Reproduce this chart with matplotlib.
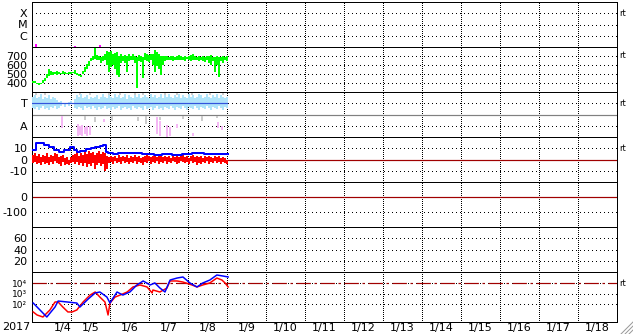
"""Space weather summary chart: X-ray, solar wind, IMF sector, Bt/Bz, Dst, Kp and electron flux."""

import numpy as np
import matplotlib

matplotlib.use("Agg")
import matplotlib.pyplot as plt
from matplotlib.lines import Line2D
from matplotlib.transforms import blended_transform_factory

W, H, DPI = 633, 334, 100
PX = 72 / DPI  # one pixel in points

DAY_LABELS = ["1/4", "1/5", "1/6", "1/7", "1/8", "1/9", "1/10", "1/11",
              "1/12", "1/13", "1/14", "1/15", "1/16", "1/17", "1/18"]
YEAR = "2017"

# X-ray flux (only a few samples poke above the bottom of the panel)
XRAY_DAY = [0.10, 1.10, 1.75]
XRAY_PEAK = [1.85e-7, 1.2e-7, 1.5e-7]

# solar wind speed, low/high per sample (km/s)
SPEED_LO = [400, 395, 385, 380, 385, 400, 420, 450, 480, 490, 490, 495, 490, 500,
            495, 500, 505, 500, 505, 500, 510, 505, 490, 475, 470, 500, 520, 560,
            590, 640, 660, 670, 660, 650, 620, 640, 660, 600, 520, 580, 600, 560,
            490, 470, 620, 640, 620, 520, 640, 650, 660, 620, 340, 640, 630, 450,
            660, 640, 630, 650, 600, 520, 590, 560, 490, 600, 640, 650, 660, 650,
            640, 660, 650, 660, 660, 650, 640, 670, 660, 640, 650, 660, 650, 640,
            650, 640, 630, 650, 620, 600, 640, 520, 600, 470, 640, 620, 650, 640]
SPEED_HI = [425, 420, 405, 400, 405, 430, 460, 500, 560, 530, 520, 525, 530, 520,
            515, 530, 520, 515, 520, 520, 525, 540, 510, 500, 490, 530, 580, 610,
            640, 680, 700, 790, 710, 700, 690, 700, 720, 750, 740, 760, 720, 730,
            740, 700, 720, 700, 710, 700, 720, 700, 720, 700, 690, 710, 700, 690,
            730, 720, 710, 720, 720, 770, 740, 720, 700, 700, 700, 700, 690, 700,
            700, 690, 700, 710, 700, 690, 700, 690, 700, 710, 720, 700, 690, 700,
            690, 700, 690, 700, 700, 710, 690, 690, 700, 690, 690, 700, 690, 700]

# IMF sector (T = toward, A = away), band per sample
SECTOR_LO = [.30, .25, .35, .20, .30, .40, .25, .30, .20, .35, .30, .40, .25, .30,
             .40, np.nan, .35, np.nan, .40, .45, np.nan, .30, .25, .35, .30, .20,
             .40, .30, .35, .25, .40, .30, .20, .35, .25, .30, .40, .25, .30, .20,
             .35, .25, .30, .40, .20, .30, .35, .25, .30, .20, .40, .30, .25, .35,
             .30, .20, .40, .25, .30, .35, .20, .30, .40, .25, .30, .20, .35, .30,
             .25, .40, .30, .20, .35, .30, .25, .40, .30, .20, .35, .30, .25, .40,
             .30, .20, .35, .30, .25, .40, .30, .20, .35, .30, .25, .40, .30, .20,
             .35, .30]
SECTOR_HI = [.80, .85, .75, .80, .90, .70, .80, .75, .85, .70, .80, .75, .65, .55,
             .60, np.nan, .50, np.nan, .55, .60, np.nan, .70, .85, .80, .90, .75,
             .80, .85, .70, .80, .75, .80, .85, .70, .80, .90, .80, .75, .85, .80,
             .75, .90, .80, .85, .75, .80, .90, .70, .85, .80, .75, .85, .80, .90,
             .75, .80, .85, .80, .75, .90, .80, .85, .75, .80, .90, .75, .85, .80,
             .90, .80, .75, .85, .80, .90, .75, .85, .80, .75, .90, .80, .85, .75,
             .80, .90, .85, .75, .80, .90, .80, .75, .85, .80, .90, .75, .85, .80,
             .75, .80]
GRAY_DAY = [0.10, 0.33, 1.23, 1.36, 1.49, 1.62, 1.97, 2.05, 2.26, 2.64, 2.72,
            2.85, 2.92, 3.28, 3.41, 3.72, 3.87, 4.10, 4.36, 4.56, 4.74, 4.90]
GRAY_LO = [0.85, 0.88, 0.86, -0.25, 0.85, -0.35, 0.87, -0.30, 0.86, 0.88, -0.30,
           0.85, -0.40, -0.25, 0.86, 0.87, -0.20, 0.85, -0.30, 0.86, -0.15, 0.88]
GRAY_HI = [0.98, 1.00, 1.00, -0.05, 0.97, -0.10, 1.00, -0.05, 0.96, 1.00, -0.10,
           0.95, -0.05, -0.10, 1.00, 0.97, -0.05, 1.00, -0.08, 0.98, -0.05, 1.00]
PINK_DAY = [0.77, 1.17, 1.22, 1.28, 1.36, 1.41, 1.49, 1.85, 3.21, 3.28, 3.46,
            3.54, 3.72, 4.13, 4.77, 4.87]
PINK_LO = [-0.60, -0.95, -0.90, -0.95, -0.85, -0.95, -0.90, -0.35, -0.85, -0.95,
           -1.00, -0.95, -0.60, -0.95, -0.60, -0.70]
PINK_HI = [-0.05, -0.40, -0.50, -0.45, -0.55, -0.50, -0.50, -0.20, -0.10, -0.30,
           -0.45, -0.55, -0.40, -0.80, -0.35, -0.50]

# IMF Bt (line) and Bz (low/high per sample), nT
BT_DAY = [0.03, 0.15, 0.25, 0.38, 0.50, 0.63, 0.76, 0.90, 1.03, 1.13, 1.18,
          1.30, 1.46, 1.56, 1.69, 1.79, 1.87, 1.90, 1.92, 2.00, 2.13, 2.26,
          2.59, 3.03, 3.21, 3.46, 3.72, 3.97, 4.23, 4.31, 4.49, 5.03]
BT_VAL = [8.5, 14.4, 15.0, 12.9, 10.8, 8.4, 7.0, 8.4, 10.8, 8.4, 7.0,
          8.0, 9.0, 10.0, 11.4, 12.0, 12.9, 12.0, 7.0, 5.5, 4.9, 5.5,
          5.5, 4.9, 4.0, 4.9, 4.0, 4.9, 5.5, 6.0, 4.9, 4.6]
BZ_LO = [-3, -2, -4, -3, -5, -2, -4, -3, -5, -2, -4, -1, -3, -4, -6, -2, -5, -4,
         -5, -3, -2, -4, -2, -5, -3, -6, -3, -7, -4, -6, -3, -8, -5, -3, -6, -4,
         -10, -8, -3, -2, -4, -1, -3, -2, -4, -1, -3, -2, -4, -2, -3, -1, -4, -2,
         -3, -5, -2, -3, -1, -4, -2, -3, -1, -4, -2, -3, -1, -4, -2, -3, -1, -2,
         -4, -3, -1, -2, -3, -2, -4, -1, -3, -2, -5, -3, -4, -2, -3, -1, -4, -2,
         -3, -1, -3, -2, -4, -2, -3, -4]
BZ_HI = [4, 6, 3, 5, 2, 4, 3, 6, 2, 4, 3, 6, 5, 2, 3, 4, 1, 2, 0, 2, 4, 5, 7, 3,
         6, 4, 7, 5, 8, 6, 7, 4, 6, 8, 5, 7, 6, 3, 2, 3, 2, 3, 1, 4, 2, 3, 2, 4,
         1, 3, 2, 4, 2, 3, 1, 2, 3, 4, 3, 2, 3, 4, 2, 3, 4, 2, 3, 2, 3, 1, 3, 2,
         3, 2, 3, 4, 2, 3, 1, 3, 4, 2, 3, 2, 3, 1, 3, 2, 3, 2, 1, 3, 2, 3, 1, 2,
         1, 0]

# >2 MeV electron flux, two satellites (log10 values)
E1_DAY = [0.03, 0.28, 0.38, 0.59, 0.67, 0.90, 1.15, 1.23, 1.31, 1.44, 1.62,
          1.74, 1.92, 2.00, 2.08, 2.18, 2.33, 2.51, 2.69, 2.85, 3.03, 3.15,
          3.28, 3.41, 3.54, 3.72, 3.87, 4.05, 4.23, 4.38, 4.56, 4.74, 4.90, 5.03]
E1_LOG = [2.14, 1.19, 0.81, 1.76, 2.33, 2.24, 2.14, 1.76, 2.05, 2.52, 3.10,
          3.19, 2.71, 2.14, 2.62, 3.19, 2.90, 3.19, 3.86, 4.24, 3.86, 4.05,
          3.57, 3.19, 4.33, 4.52, 4.62, 4.05, 3.67, 4.05, 4.33, 4.81, 4.71, 4.62]
E2_DAY = [0.03, 0.13, 0.28, 0.46, 0.59, 0.67, 0.79, 0.92, 1.03, 1.15, 1.31,
          1.49, 1.62, 1.74, 1.87, 1.92, 1.95, 2.00, 2.13, 2.26, 2.44, 2.59,
          2.77, 2.95, 3.08, 3.10, 3.28, 3.46, 3.54, 3.72, 3.87, 4.10, 4.23,
          4.38, 4.56, 4.74, 4.87, 4.95, 5.03]
E2_LOG = [1.29, 1.00, 0.81, 1.48, 2.24, 2.24, 1.76, 1.29, 1.29, 1.48, 2.24,
          2.90, 3.19, 2.71, 2.24, 1.48, 1.00, 2.14, 2.71, 2.90, 3.19, 3.67,
          3.86, 3.67, 3.10, 3.38, 3.19, 3.57, 4.24, 4.24, 4.14, 3.86, 3.67,
          3.86, 4.05, 4.52, 4.33, 4.05, 3.67]
E_ALERT = 1e4

# panel rows in pixels (top, bottom) and plot edges
ROWS = [(2, 47), (47, 92), (92, 137), (137, 182), (182, 227), (227, 272), (272, 322)]
LEFT, RIGHT = 32, 617
N_DAYS = 15

DARK_RED = "#a00000"


def sample_days(n):
    """Times of regularly sampled series, in days from the left edge."""
    return (1 + 2 * np.arange(n)) / 39.0


def add_panel(fig, top, bottom):
    ax = fig.add_axes([LEFT / W, 1 - bottom / H, (RIGHT - LEFT) / W, (bottom - top) / H])
    ax.set_xlim(0, N_DAYS)
    for spine in ax.spines.values():
        spine.set_linewidth(PX)
        spine.set_color("black")
    ax.set_xticks(range(1, N_DAYS), labels=[])
    ax.tick_params(which="both", length=0, pad=4.5 * PX, labelsize=8)
    for d in range(1, N_DAYS):
        ax.axvline(d, color="black", lw=PX, ls=(0, (1, 2)), antialiased=False, zorder=1)
    return ax


def yticks(ax, values, labels, rt=True, size=8):
    ax.set_yticks(values, labels=labels)
    ax.tick_params(axis="y", labelsize=size)
    for v in values:
        ax.axhline(v, color="black", lw=PX, ls=(0, (1, 3)), antialiased=False, zorder=1)
    if rt:
        trans = blended_transform_factory(ax.transAxes, ax.transData)
        ax.text(1.004, values[0], "rt", transform=trans, fontsize=6, va="center", ha="left")


def main():
    fig = plt.figure(figsize=(W / DPI, H / DPI), dpi=DPI)
    axes = [add_panel(fig, top, bottom) for top, bottom in ROWS]

    # X-ray
    ax = axes[0]
    ax.set_yscale("log")
    ax.set_ylim(1e-7, 1e-3)
    ax.minorticks_off()
    yticks(ax, [1e-4, 1e-5, 1e-6], ["X", "M", "C"])
    ax.vlines(XRAY_DAY, 1e-7, XRAY_PEAK, color="#ff00ff", lw=2 * PX, zorder=3)

    # solar wind speed
    ax = axes[1]
    ax.set_ylim(300, 800)
    yticks(ax, [700, 600, 500, 400], ["700", "600", "500", "400"])
    ax.vlines(sample_days(len(SPEED_LO)), SPEED_LO, SPEED_HI, color="#00ff00",
              lw=2 * PX, zorder=3)

    # sector
    ax = axes[2]
    ax.set_ylim(-1, 1)
    yticks(ax, [0.5, -0.5], ["T", "A"])
    ax.axhline(0, color="#808080", lw=1.2 * PX, zorder=2)
    ax.vlines(GRAY_DAY, GRAY_LO, GRAY_HI, color="#cccccc", lw=2 * PX, zorder=2)
    ax.vlines(PINK_DAY, PINK_LO, PINK_HI, color="#f5b8f5", lw=2 * PX, zorder=2)
    sd = sample_days(len(SECTOR_LO))
    ax.vlines(sd, SECTOR_LO, SECTOR_HI, color="#b0e4fa", lw=2 * PX, zorder=3)
    ax.plot([0, sd[-1]], [0.5, 0.5], color="#3355dd", lw=1.2 * PX, zorder=4)

    # Bt / Bz
    ax = axes[3]
    ax.set_ylim(-20, 20)
    yticks(ax, [10, 0, -10], ["10", "0", "-10"])
    ax.axhline(0, color=DARK_RED, lw=1.2 * PX, zorder=2)
    ax.vlines(sample_days(len(BZ_LO)), BZ_LO, BZ_HI, color="#ff0000", lw=2 * PX, zorder=3)
    ax.plot(BT_DAY, BT_VAL, color="#0000ff", lw=2 * PX, drawstyle="steps-mid", zorder=4)

    # Dst
    ax = axes[4]
    ax.set_ylim(-200, 100)
    yticks(ax, [0, -100], ["0", "-100"], rt=False)
    ax.axhline(0, color=DARK_RED, lw=1.2 * PX, zorder=2)

    # Kp-like index
    ax = axes[5]
    ax.set_ylim(0, 80)
    yticks(ax, [60, 40, 20], ["60", "40", "20"], rt=False)

    # electron flux
    ax = axes[6]
    ax.set_yscale("log")
    ax.set_ylim(10 ** 0.333, 10 ** 5.095)
    ax.minorticks_off()
    yticks(ax, [1e4, 1e3, 1e2], ["10⁴", "10³", "10²"], size=6.5)
    ax.axhline(E_ALERT, color=DARK_RED, lw=1.2 * PX, ls=(0, (12, 3, 2, 3)), zorder=2)
    ax.plot(E2_DAY, 10 ** np.asarray(E2_LOG), color="#ff0000", lw=1.5 * PX, zorder=3)
    ax.plot(E1_DAY, 10 ** np.asarray(E1_LOG), color="#0000ff", lw=1.5 * PX, zorder=4)
    # first day label is nudged right so it clears the year
    label_pos = [0.8] + [d + 0.5 for d in range(1, N_DAYS)]
    ax.set_xticks(label_pos, labels=DAY_LABELS, minor=True)
    ax.tick_params(axis="x", which="minor", length=0, pad=1.5 * PX, labelsize=8)

    fig.text(2 / W, 1 - 327.5 / H, YEAR, fontsize=8, va="center", ha="left")

    # window resize grip
    for k in (4, 8, 12):
        fig.add_artist(Line2D([(W - k) / W, 1.0], [0, k / H], color="#999999",
                              lw=PX, transform=fig.transFigure))

    fig.savefig("out.png", dpi=DPI)


if __name__ == "__main__":
    main()
